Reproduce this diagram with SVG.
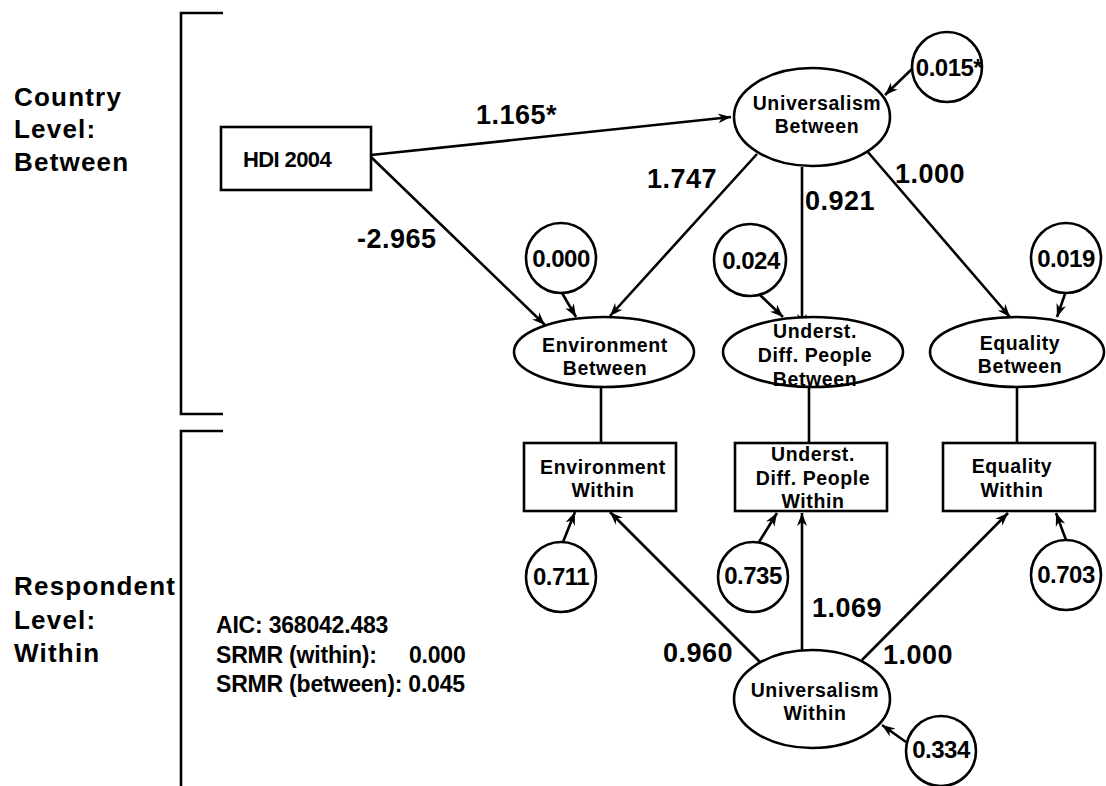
<svg xmlns="http://www.w3.org/2000/svg" width="1106" height="786" viewBox="0 0 1106 786">
<style>
text{font-family:"Liberation Sans",Arial,sans-serif;font-weight:bold;fill:#000}
.lvl{font-size:26px;letter-spacing:1.2px}
.nd{font-size:19.5px;letter-spacing:0.6px;text-anchor:middle}
.hdi{font-size:22px;letter-spacing:-0.6px;text-anchor:middle}
.lab{font-size:27px;letter-spacing:0.5px}
.err{font-size:24px;letter-spacing:-0.5px;text-anchor:middle}
.st{font-size:23px;letter-spacing:-0.2px}
.shape{fill:#fff;stroke:#000;stroke-width:2.6}
.ln{stroke:#000;stroke-width:2.6;fill:none}
.ar{stroke:#000;stroke-width:2.6;fill:none;marker-end:url(#ah)}
</style>
<defs>
<marker id="ah" viewBox="0 0 14 12" refX="13" refY="6" markerWidth="14" markerHeight="12" markerUnits="userSpaceOnUse" orient="auto">
<path d="M0,1 L13,6 L0,11 L4,6 z" fill="#000"/>
</marker>
</defs>
<rect width="1106" height="786" fill="#fff"/>

<g id="brackets">
<path class="ln" d="M223,13 H181 V414 H223"/>
<path class="ln" d="M223,431 H181 V786"/>
</g>
<g id="level-labels">
<text class="lvl" x="14" y="106">Country</text>
<text class="lvl" x="14" y="138">Level:</text>
<text class="lvl" x="14" y="171">Between</text>
<text class="lvl" x="14" y="595">Respondent</text>
<text class="lvl" x="14" y="629">Level:</text>
<text class="lvl" x="14" y="662">Within</text>
</g>

<g id="connectors">
<line class="ar" x1="371" y1="155" x2="731" y2="117"/>
<line class="ar" x1="371" y1="157" x2="545" y2="325"/>
<line class="ar" x1="757" y1="154" x2="610" y2="316"/>
<line class="ar" x1="802" y1="167" x2="802" y2="327"/>
<line class="ar" x1="867" y1="151" x2="1010" y2="317"/>
<line class="ar" x1="913" y1="68" x2="885" y2="95"/>
<line class="ar" x1="562" y1="293" x2="576" y2="317"/>
<line class="ar" x1="760" y1="295" x2="783" y2="317"/>
<line class="ar" x1="1065" y1="294" x2="1057" y2="317"/>
<line class="ln" x1="601" y1="387" x2="601" y2="443"/>
<line class="ln" x1="809" y1="387" x2="809" y2="443"/>
<line class="ln" x1="1017" y1="387" x2="1017" y2="443"/>
<line class="ar" x1="563" y1="542" x2="575" y2="512"/>
<line class="ar" x1="759" y1="542" x2="777" y2="513"/>
<line class="ar" x1="1066" y1="540" x2="1056" y2="513"/>
<line class="ar" x1="760" y1="662" x2="610" y2="512"/>
<line class="ar" x1="802" y1="650" x2="802" y2="513"/>
<line class="ar" x1="862" y1="660" x2="1008" y2="513"/>
<line class="ar" x1="906" y1="742" x2="882" y2="725"/>
</g>

<g id="edge-labels">
<text class="lab" x="476" y="124">1.165*</text>
<text class="lab" x="357" y="248">-2.965</text>
<text class="lab" x="647" y="188">1.747</text>
<text class="lab" x="805" y="210">0.921</text>
<text class="lab" x="895" y="183">1.000</text>
<text class="lab" x="663" y="662">0.960</text>
<text class="lab" x="812" y="617">1.069</text>
<text class="lab" x="883" y="664">1.000</text>
</g>

<g id="hdi">
<rect class="shape" x="221" y="127" width="150" height="63"/>
<text class="hdi" x="287" y="167">HDI 2004</text>
</g>

<g id="univ-between">
<ellipse class="shape" cx="812" cy="117" rx="78" ry="49"/>
<text class="nd" x="817" y="110">Universalism</text>
<text class="nd" x="817" y="133">Between</text>
</g>
<g id="err-univ-between">
<circle class="shape" cx="947" cy="67" r="35"/>
<text class="err" x="949" y="76">0.015*</text>
</g>

<g id="env-between">
<ellipse class="shape" cx="604" cy="352" rx="90" ry="35"/>
<text class="nd" x="605" y="352">Environment</text>
<text class="nd" x="605" y="375">Between</text>
</g>
<g id="err-env-between">
<circle class="shape" cx="561" cy="258" r="35"/>
<text class="err" x="561" y="267">0.000</text>
</g>

<g id="und-between">
<ellipse class="shape" cx="813" cy="352" rx="90" ry="35"/>
<text class="nd" x="815" y="338">Underst.</text>
<text class="nd" x="815" y="362">Diff. People</text>
<text class="nd" x="815" y="386">Between</text>
</g>
<g id="err-und-between">
<circle class="shape" cx="750" cy="260" r="36"/>
<text class="err" x="751" y="269">0.024</text>
</g>

<g id="eq-between">
<ellipse class="shape" cx="1017" cy="352" rx="87" ry="35"/>
<text class="nd" x="1020" y="350">Equality</text>
<text class="nd" x="1020" y="373">Between</text>
</g>
<g id="err-eq-between">
<circle class="shape" cx="1066" cy="258" r="35"/>
<text class="err" x="1066" y="267">0.019</text>
</g>

<g id="env-within">
<rect class="shape" x="524" y="443" width="152" height="68"/>
<text class="nd" x="603" y="474">Environment</text>
<text class="nd" x="603" y="497">Within</text>
</g>
<g id="err-env-within">
<circle class="shape" cx="561" cy="577" r="35"/>
<text class="err" x="561" y="585">0.711</text>
</g>

<g id="und-within">
<rect class="shape" x="735" y="443" width="152" height="68"/>
<text class="nd" x="813" y="461">Underst.</text>
<text class="nd" x="813" y="485">Diff. People</text>
<text class="nd" x="813" y="508">Within</text>
</g>
<g id="err-und-within">
<circle class="shape" cx="753" cy="577" r="35"/>
<text class="err" x="753" y="584">0.735</text>
</g>

<g id="eq-within">
<rect class="shape" x="943" y="443" width="152" height="68"/>
<text class="nd" x="1012" y="473">Equality</text>
<text class="nd" x="1012" y="497">Within</text>
</g>
<g id="err-eq-within">
<circle class="shape" cx="1066" cy="575" r="35"/>
<text class="err" x="1066" y="583">0.703</text>
</g>

<g id="univ-within">
<ellipse class="shape" cx="812" cy="699" rx="78" ry="49"/>
<text class="nd" x="815" y="697">Universalism</text>
<text class="nd" x="815" y="720">Within</text>
</g>
<g id="err-univ-within">
<circle class="shape" cx="941" cy="751" r="35"/>
<text class="err" x="941" y="758">0.334</text>
</g>

<g id="fit-stats">
<text class="st" x="216" y="633">AIC: 368042.483</text>
<text class="st" x="216" y="663">SRMR (within):</text>
<text class="st" x="409" y="663">0.000</text>
<text class="st" x="216" y="692">SRMR (between): 0.045</text>
</g>
</svg>
